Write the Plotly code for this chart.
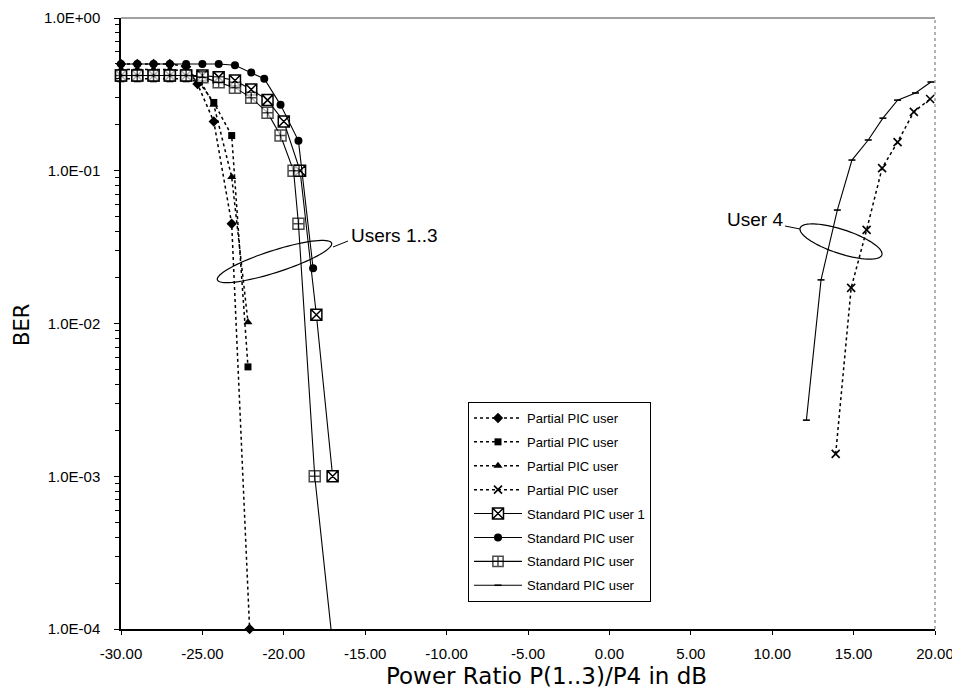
import numpy as np
import plotly.graph_objects as go

# ---------------- data ----------------
p1_x = [-30, -29, -28, -27, -26, -25.3, -24.3, -23.2, -22.1]
p1_y = [0.50, 0.50, 0.50, 0.50, 0.48, 0.37, 0.21, 0.045, 0.0001]

p2_x = [-30, -29, -28, -27, -26, -25.2, -24.3, -23.2, -22.2]
p2_y = [0.40, 0.40, 0.40, 0.40, 0.40, 0.38, 0.28, 0.17, 0.0052]

p3_x = [-30, -29, -28, -27, -26, -25.2, -24.3, -23.2, -22.2]
p3_y = [0.46, 0.46, 0.46, 0.46, 0.45, 0.40, 0.27, 0.091, 0.0102]

p4_x = [13.9, 14.85, 15.8, 16.75, 17.7, 18.7, 19.7]
p4_y = [0.0014, 0.0171, 0.041, 0.104, 0.154, 0.243, 0.295]

s1_x = [-30, -29, -28, -27, -26, -25, -24, -23, -22, -21, -20, -19, -18, -17]
s1_y = [0.42, 0.42, 0.42, 0.42, 0.42, 0.42, 0.41, 0.39, 0.34, 0.29, 0.21, 0.10, 0.0114, 0.001]

s2_x = [-30, -29, -28, -27, -26, -25, -24, -23, -22, -21.2, -20.2, -19.1, -18.2]
s2_y = [0.50, 0.50, 0.50, 0.50, 0.50, 0.50, 0.50, 0.49, 0.44, 0.40, 0.27, 0.157, 0.023]

s3_x = [-30, -29, -28, -27, -26, -25, -24, -23, -22, -21, -20.2, -19.4, -19.1, -18.1, -17.1]
s3_y = [0.42, 0.42, 0.42, 0.42, 0.42, 0.41, 0.38, 0.35, 0.30, 0.24, 0.17, 0.10, 0.045, 0.001, 0.0001]

s4_x = [12.1, 13.0, 14.0, 14.9, 15.9, 16.8, 17.7, 18.8, 19.75]
s4_y = [0.00233, 0.0193, 0.0553, 0.1175, 0.159, 0.221, 0.29, 0.323, 0.381]

x_tick_vals = [-30, -25, -20, -15, -10, -5, 0, 5, 10, 15, 20]
x_tick_text = ["-30.00", "-25.00", "-20.00", "-15.00", "-10.00", "-5.00", "0.00", "5.00", "10.00", "15.00", "20.00"]
y_tick_vals = [1, 0.1, 0.01, 0.001, 0.0001]
y_tick_text = ["1.0E+00", "1.0E-01", "1.0E-02", "1.0E-03", "1.0E-04"]

legend_names = ["Partial PIC user", "Partial PIC user", "Partial PIC user", "Partial PIC user",
                "Standard PIC user 1", "Standard PIC user", "Standard PIC user", "Standard PIC user"]

# ---------------- layout geometry (reference pixels) ----------------
OFF = 8                     # page body margin
W, H = 960 - OFF, 693 - OFF
L, R, T, B = 121, 935, 18, 629


def to_paper(px, py):
    return (px - L) / (R - L), (B - py) / (B - T)


def ellipse_path(cx, cy, a, b, ang_deg, n=80):
    th = np.linspace(0, 2 * np.pi, n)
    ang = np.deg2rad(ang_deg)
    xs = cx + a * np.cos(th) * np.cos(ang) - b * np.sin(th) * np.sin(ang)
    ys = cy + a * np.cos(th) * np.sin(ang) + b * np.sin(th) * np.cos(ang)
    pts = [to_paper(x, y) for x, y in zip(xs, ys)]
    return "M " + " L ".join(f"{x:.5f},{y:.5f}" for x, y in pts) + " Z"


fig = go.Figure()

dot = dict(color="black", width=1.5, dash="dot")
solid = dict(color="black", width=1.1)

series = [
    (p1_x, p1_y, dot, dict(symbol="diamond", size=8, color="black")),
    (p2_x, p2_y, dot, dict(symbol="square", size=7, color="black")),
    (p3_x, p3_y, dot, dict(symbol="triangle-up", size=8, color="black")),
    (p4_x, p4_y, dot, dict(symbol="x-thin", size=8, color="black", line=dict(color="black", width=1.6))),
    (s1_x, s1_y, solid, dict(symbol="square-x", size=11, color="white", line=dict(color="black", width=1.5))),
    (s2_x, s2_y, solid, dict(symbol="circle", size=8, color="black")),
    (s3_x, s3_y, solid, dict(symbol="square-cross", size=11, color="white", line=dict(color="black", width=1.5))),
    (s4_x, s4_y, solid, dict(symbol="line-ew", size=5, color="black", line=dict(color="black", width=1.6))),
]

for i, (xs, ys, ln, mk) in enumerate(series):
    mk = dict(mk)
    if i == 6:
        mk["size"] = [11] * (len(xs) - 1) + [0]
    fig.add_trace(go.Scatter(
        x=xs, y=ys, mode="lines+markers", name=legend_names[i],
        line=ln, marker=mk, legendgroup=f"g{i}", cliponaxis=False,
    ))

shapes = [
    dict(type="line", xref="paper", yref="paper", x0=0, x1=1, y0=1, y1=1,
         line=dict(color="#444", width=1)),
    dict(type="line", xref="paper", yref="paper", x0=1, x1=1, y0=0, y1=1,
         line=dict(color="#666", width=1, dash="dot")),
    dict(type="path", xref="paper", yref="paper", path=ellipse_path(274.5, 261.5, 60, 11, -17.8),
         line=dict(color="black", width=1.2)),
    dict(type="path", xref="paper", yref="paper", path=ellipse_path(841, 241.5, 43, 12, 18.2),
         line=dict(color="black", width=1.2)),
]
for (xa, ya), (xb, yb) in [((333, 247), (348, 241)), ((785, 226), (800, 229))]:
    pa, pb = to_paper(xa, ya), to_paper(xb, yb)
    shapes.append(dict(type="line", xref="paper", yref="paper", x0=pa[0], y0=pa[1], x1=pb[0], y1=pb[1],
                       line=dict(color="black", width=1)))

ann_font = dict(family="Liberation Sans", size=19, color="black")
u13 = to_paper(349, 236)
u4 = to_paper(785, 219)
xt = to_paper(546, 676)
yt = to_paper(22, 325)
annotations = [
    dict(xref="paper", yref="paper", x=u13[0], y=u13[1], text="Users 1..3", showarrow=False,
         xanchor="left", yanchor="middle", font=ann_font),
    dict(xref="paper", yref="paper", x=u4[0], y=u4[1], text="User 4", showarrow=False,
         xanchor="right", yanchor="middle", font=ann_font),
    dict(xref="paper", yref="paper", x=xt[0], y=xt[1], text="Power Ratio P(1..3)/P4 in dB", showarrow=False,
         xanchor="center", yanchor="middle", font=dict(family="DejaVu Sans", size=23, color="black")),
    dict(xref="paper", yref="paper", x=yt[0], y=yt[1], text="BER", showarrow=False, textangle=-90,
         xanchor="center", yanchor="middle", font=dict(family="DejaVu Sans", size=21, color="black")),
]

lg = to_paper(468, 402)

minor_vals = [m * 10.0 ** e for e in range(-4, 0) for m in range(2, 10)]

fig.update_layout(
    width=W, height=H,
    margin=dict(l=L - OFF, r=W - (R - OFF), t=T - OFF, b=H - (B - OFF), pad=0, autoexpand=False),
    paper_bgcolor="white", plot_bgcolor="white",
    font=dict(family="Liberation Sans", color="black", size=12),
    showlegend=True,
    legend=dict(x=lg[0], y=lg[1], xanchor="left", yanchor="top",
                bgcolor="white", bordercolor="black", borderwidth=1,
                font=dict(family="Liberation Sans", size=13, color="black"),
                tracegroupgap=4, traceorder="grouped", itemwidth=48),
    shapes=shapes,
    annotations=annotations,
    xaxis=dict(range=[-30, 20], tickvals=x_tick_vals, ticktext=x_tick_text, automargin=False,
               showline=True, linecolor="black", linewidth=1.5, showgrid=False, zeroline=False,
               ticks="outside", ticklen=4, tickcolor="black",
               tickfont=dict(size=15), ticklabelstandoff=6),
    yaxis=dict(type="log", range=[-4, 0], tickvals=y_tick_vals, ticktext=y_tick_text, automargin=False,
               showline=True, linecolor="black", linewidth=1.5, showgrid=False, zeroline=False,
               ticks="outside", ticklen=5, tickcolor="black",
               minor=dict(tickvals=minor_vals, ticks="outside", ticklen=4, tickcolor="black", showgrid=False),
               tickfont=dict(size=15), ticklabelstandoff=11),
)

fig.write_html("out.html")
